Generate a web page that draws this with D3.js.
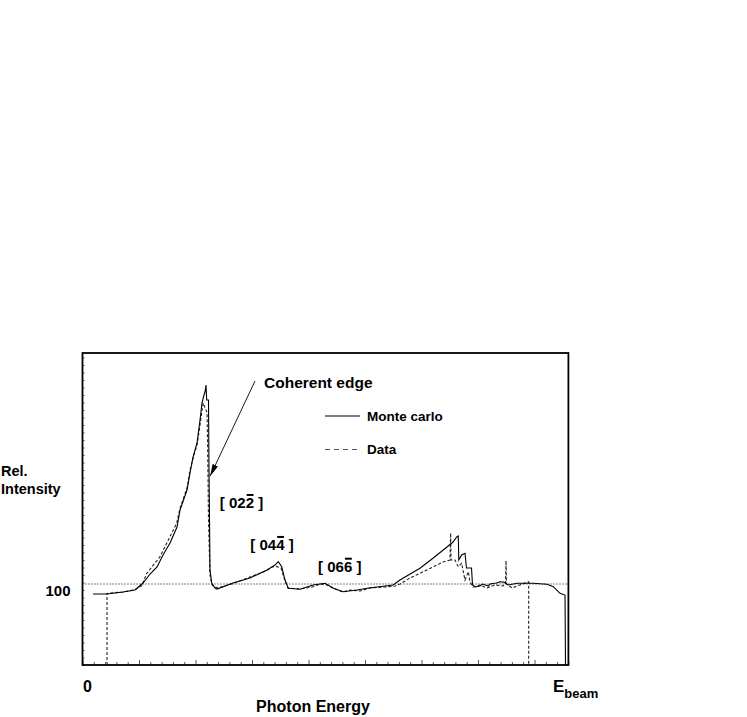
<!DOCTYPE html>
<html>
<head>
<meta charset="utf-8">
<script src="https://cdn.jsdelivr.net/npm/d3@7"></script>
<style>
  html, body { margin: 0; padding: 0; background: #fff; }
  svg { display: block; }
  text { font-family: "Liberation Sans", Arial, Helvetica, sans-serif; font-weight: bold; fill: #000; }
</style>
</head>
<body>
<script>
// ---- data (photon energy in arbitrary units, 0 .. E_beam; relative intensity) ----
const mcEnergy = [0.186,0.434,0.717,0.929,1.071,1.195,1.319,1.425,1.549,1.673,1.726,1.85,1.903,1.956,2.027,2.08,2.115,2.15,2.168,2.186,2.198,2.23,2.239,2.257,2.287,2.345,2.381,2.664,2.965,3.265,3.407,3.465,3.526,3.584,3.642,3.85,4.08,4.292,4.434,4.611,4.858,5.035,5.496,5.619,5.92,5.973,6.203,6.451,6.558,6.623,6.651,6.66,6.711,6.77,6.796,6.885,6.903,6.956,7.035,7.08,7.186,7.212,7.327,7.389,7.451,7.54,7.69,7.973,8.221,8.333,8.451,8.54,8.549];
const mcIntensity = [94.7,94.7,97.3,100,109.3,121.3,130.7,146.7,162.7,184,206.7,233.3,256,277.3,296,326.7,349.3,360,364,373.3,353.3,353.3,260,126.7,109.3,102.7,101.3,109.3,116,126.7,133.3,137.7,131,113.3,102.3,101,106.7,109,102.7,97.7,100,102.3,106.7,113.3,126.7,129,142.3,157.3,164,170.7,172,140,146.7,149,129.3,129.3,106.7,104,105.3,108,105.3,108,109.3,111,110.7,106.7,109,109,107.6,104.4,95.6,93.3,0];

const dataEnergy = [0.434,0.434,0.5,0.717,0.93,1.05,1.136,1.372,1.49,1.667,1.726,1.85,1.903,1.973,2.027,2.08,2.115,2.138,2.168,2.204,2.216,2.23,2.257,2.292,2.345,2.4,2.664,2.965,3.248,3.354,3.442,3.513,3.584,3.637,3.85,4.062,4.204,4.327,4.469,4.611,4.735,4.912,5.088,5.354,5.531,5.619,5.796,5.973,6.203,6.38,6.504,6.516,6.522,6.593,6.651,6.711,6.74,6.77,6.829,6.858,6.912,7.035,7.159,7.3,7.442,7.487,7.496,7.504,7.602,7.743,7.897,7.897];
const dataIntensity = [0,95.5,96,97.3,100.5,106,122,144.4,162.3,189,209,236,260,280,293,320,340,349.3,342.7,337,286.7,193,120,106.7,104,102.7,108.7,117.3,125.3,130.7,131.3,129.3,112,102.7,101.3,104,108,106.7,101.3,97.3,100,98.7,102.7,104,105.3,108,116,122.3,130.7,137.3,140,176,140,140,131,135.6,124.4,113.3,124.4,111,104,106.7,102.7,106.7,105.3,108,139,108,102.7,106.7,111,0];

const refLevel = 108;                 // dotted reference line
const xMajorTicks = [0,1,2,3,4,5,6,7,8];
const xMinorTicks = d3.range(0, 8.61, 0.2).map(v => +v.toFixed(2));
const yTicks = d3.range(0, 411, 10);
const yLabelTicks = [100];
const peakLabels = [
  {text: "[ 022 ]", bar: 4, e: 2.43, v: 209},
  {text: "[ 044 ]", bar: 4, e: 2.97, v: 153},
  {text: "[ 066 ]", bar: 4, e: 4.17, v: 124}
];

// ---- layout ----
const W = 747, H = 717;
const svg = d3.select("body").append("svg").attr("width", W).attr("height", H);

const x = d3.scaleLinear().domain([0, 8.6]).range([82.5, 568.4]);
const y = d3.scaleLinear().domain([0, 416]).range([665, 353]);

// bottom axis ticks (inside)
const gx = svg.append("g").attr("transform", `translate(0,${y(0)})`);
gx.call(d3.axisBottom(x).tickValues(xMinorTicks.filter(v => Math.abs(v - Math.round(v)) > 1e-6)).tickSize(-3).tickFormat(""));
gx.call(g => g.select(".domain").remove());
const gx2 = svg.append("g").attr("transform", `translate(0,${y(0)})`);
gx2.call(d3.axisBottom(x).tickValues(xMajorTicks).tickSize(-5).tickFormat(""));
gx2.call(g => g.select(".domain").remove());
svg.selectAll("g .tick line").attr("stroke", "#555");

// left axis ticks (inside)
const gy = svg.append("g").attr("transform", `translate(${x(0)},0)`);
gy.call(d3.axisLeft(y).tickValues(yTicks).tickSize(-2).tickPadding(12)
  .tickFormat(d => yLabelTicks.includes(d) ? String(d) : ""));
gy.call(g => g.select(".domain").remove());
gy.selectAll(".tick line").attr("stroke", "#555");
gy.selectAll(".tick text").style("font-size", "15px").style("font-family", '"Liberation Sans", Arial, sans-serif')
  .style("font-weight", "bold").attr("dy", "0.38em").attr("fill", "#000");

// reference dotted line
svg.append("line")
  .attr("x1", x(0)).attr("x2", x(8.6))
  .attr("y1", y(refLevel)).attr("y2", y(refLevel))
  .attr("stroke", "#000").attr("stroke-width", 1).attr("stroke-dasharray", "1,2");

// curves
const line = d3.line().x(d => x(d[0])).y(d => y(d[1]));
const mc = mcEnergy.map((e, i) => [e, mcIntensity[i]]);
const dat = dataEnergy.map((e, i) => [e, dataIntensity[i]]);

svg.append("path").datum(dat).attr("d", line)
  .attr("fill", "none").attr("stroke", "#222").attr("stroke-width", 1.1).attr("stroke-dasharray", "3,2");
svg.append("path").datum(mc).attr("d", line)
  .attr("fill", "none").attr("stroke", "#000").attr("stroke-width", 1.1);

// frame
svg.append("rect")
  .attr("x", x(0)).attr("y", y(416))
  .attr("width", x(8.6) - x(0)).attr("height", y(0) - y(416))
  .attr("fill", "none").attr("stroke", "#000").attr("stroke-width", 1.8);

// arrow for coherent edge
const defs = svg.append("defs");
defs.append("marker").attr("id", "ah").attr("viewBox", "0 0 12 6")
  .attr("refX", 12).attr("refY", 3).attr("markerWidth", 12).attr("markerHeight", 6)
  .attr("markerUnits", "userSpaceOnUse").attr("orient", "auto")
  .append("path").attr("d", "M0,0 L12,3 L0,6 Z").attr("fill", "#000");
svg.append("line")
  .attr("x1", 255).attr("y1", 381).attr("x2", x(2.26)).attr("y2", y(252))
  .attr("stroke", "#000").attr("stroke-width", 0.9).attr("marker-end", "url(#ah)");

svg.append("text").attr("x", 264).attr("y", 388).style("font-size", "15.5px").text("Coherent edge");

// legend
svg.append("line").attr("x1", 325).attr("x2", 360).attr("y1", 416).attr("y2", 416)
  .attr("stroke", "#555").attr("stroke-width", 1.3);
svg.append("text").attr("x", 367).attr("y", 421).style("font-size", "13.5px").text("Monte carlo");
svg.append("line").attr("x1", 325).attr("x2", 360).attr("y1", 449.5).attr("y2", 449.5)
  .attr("stroke", "#555").attr("stroke-width", 1.1).attr("stroke-dasharray", "5,4");
svg.append("text").attr("x", 367).attr("y", 454).style("font-size", "13.5px").text("Data");

// peak labels with overline on the barred index
peakLabels.forEach(p => {
  const fs = 15;
  const t = svg.append("text").attr("x", x(p.e)).attr("y", y(p.v)).style("font-size", fs + "px").text(p.text);
  const node = t.node();
  const ext = node.getExtentOfChar(p.bar);
  const by = y(p.v) - 0.72 * fs - 2.5;
  svg.append("line").attr("x1", ext.x + 1).attr("x2", ext.x + ext.width - 0.5)
    .attr("y1", by).attr("y2", by).attr("stroke", "#000").attr("stroke-width", 2);
});

// axis titles
svg.append("text").attr("x", 1).attr("y", 476).style("font-size", "14.5px").text("Rel.");
svg.append("text").attr("x", 1).attr("y", 494).style("font-size", "14.5px").text("Intensity");
svg.append("text").attr("x", x(0) + 5).attr("y", 692).attr("text-anchor", "middle").style("font-size", "16px").text("0");
const eb = svg.append("text").attr("x", 553).attr("y", 692).style("font-size", "17px");
eb.append("tspan").text("E");
eb.append("tspan").attr("dy", 6).style("font-size", "13px").text("beam");
svg.append("text").attr("x", 313).attr("y", 712).attr("text-anchor", "middle").style("font-size", "16px").text("Photon Energy");
</script>
</body>
</html>
